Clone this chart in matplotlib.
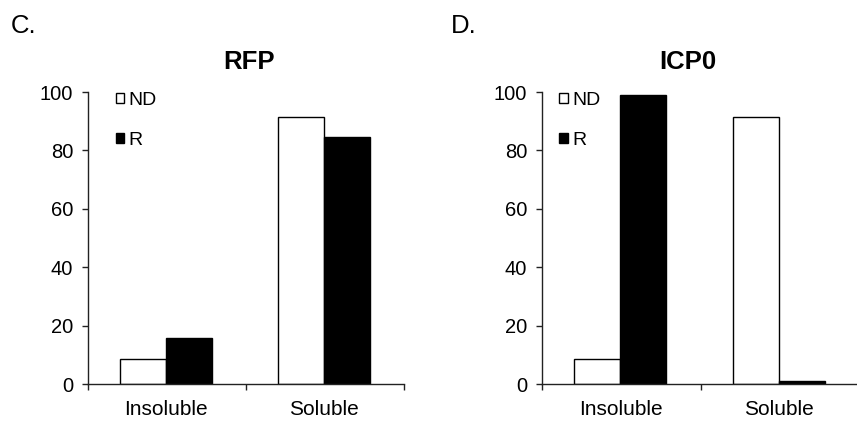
import matplotlib
matplotlib.use("Agg")
import matplotlib.pyplot as plt
from matplotlib.ticker import FixedLocator, NullFormatter, FixedFormatter

plt.rcParams['font.family'] = ['Liberation Sans', 'DejaVu Sans']

categories = ["Insoluble", "Soluble"]
series_names = ["ND", "R"]

rfp_nd = [8.6, 91.4]
rfp_r = [15.8, 84.5]

icp0_nd = [8.6, 91.4]
icp0_r = [99.0, 1.1]

yticks = [0, 20, 40, 60, 80, 100]

W, H = 857, 421
fig = plt.figure(figsize=(W / 100, H / 100), dpi=100)


def px_axes(left, right, top, bottom):
    return fig.add_axes([left / W, 1 - bottom / H, (right - left) / W, (bottom - top) / H])


def draw_panel(ax, nd, r, legend_x):
    centers = [0.495, 1.495]
    width = 0.29
    b1 = ax.bar([c - width / 2 for c in centers], nd, width=width,
                color="white", edgecolor="black", linewidth=1.0, label=series_names[0])
    b2 = ax.bar([c + width / 2 for c in centers], r, width=width,
                color="black", edgecolor="black", linewidth=1.0, label=series_names[1])
    ax.set_xlim(0, 2)
    ax.set_ylim(0, 100)
    for s in ("top", "right"):
        ax.spines[s].set_visible(False)
    for s in ("left", "bottom"):
        ax.spines[s].set_linewidth(1.0)
        ax.spines[s].set_color("#222222")
    ax.set_yticks(yticks)
    ax.tick_params(axis="y", direction="out", length=4.3, width=1.0,
                   labelsize=14.5, pad=6.5, color="#222222")
    ax.xaxis.set_major_locator(FixedLocator([0, 1, 2]))
    ax.xaxis.set_major_formatter(NullFormatter())
    ax.xaxis.set_minor_locator(FixedLocator(centers))
    ax.xaxis.set_minor_formatter(FixedFormatter(categories))
    ax.tick_params(axis="x", which="major", direction="out", length=4.5, width=1.0, color="#222222")
    ax.tick_params(axis="x", which="minor", length=0, labelsize=15, pad=11.5)
    leg = ax.legend(handles=[b1, b2], loc="upper left", bbox_to_anchor=(legend_x, 1.0),
                    frameon=False, fontsize=14, handlelength=0.42, handleheight=0.42,
                    handletextpad=0.25, labelspacing=1.2, borderpad=0, borderaxespad=0)
    for h in leg.legend_handles:
        h.set_linewidth(1.0)


ax1 = px_axes(88, 404, 92, 384)
draw_panel(ax1, rfp_nd, rfp_r, 0.088)

ax2 = px_axes(542, 859, 92, 384)
draw_panel(ax2, icp0_nd, icp0_r, 0.055)

fig.text(249 / W, 1 - 62 / H, "RFP", ha="center", va="center", fontsize=18.5, fontweight="bold")
fig.text(688 / W, 1 - 62 / H, "ICP0", ha="center", va="center", fontsize=18.5, fontweight="bold")
fig.text(11 / W, 1 - 26 / H, "C.", ha="left", va="center", fontsize=18.5)
fig.text(451 / W, 1 - 26 / H, "D.", ha="left", va="center", fontsize=18.5)

fig.savefig("out.png", dpi=100)
